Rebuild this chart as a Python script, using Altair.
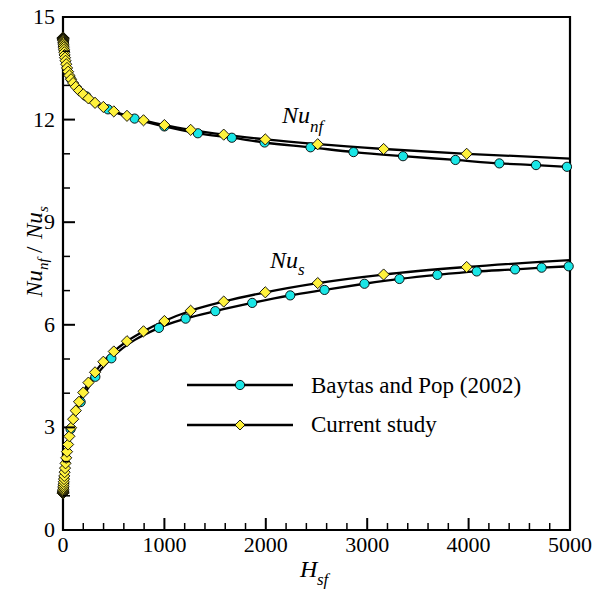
import altair as alt
import pandas as pd

# ---------------- data ----------------
# Current study (diamonds)
cur_H = [0.1, 0.126, 0.158, 0.2, 0.251, 0.316, 0.398, 0.501, 0.631, 0.794,
         1, 1.26, 1.58, 2, 2.51, 3.16, 3.98, 5.01, 6.31, 7.94,
         10, 12.6, 15.8, 20, 25.1, 31.6, 39.8, 50.1, 63.1, 79.4,
         100, 126, 158, 200, 251, 316, 398, 501, 631, 794,
         1000, 1259, 1585, 1995, 2512, 3162, 3981]
cur_nf = [14.40, 14.40, 14.39, 14.39, 14.39, 14.38, 14.38, 14.38, 14.37, 14.37,
          14.36, 14.35, 14.34, 14.32, 14.30, 14.27, 14.24, 14.20, 14.15, 14.10,
          14.04, 13.97, 13.89, 13.81, 13.72, 13.62, 13.51, 13.40, 13.29, 13.18,
          13.07, 12.96, 12.85, 12.74, 12.62, 12.49, 12.37, 12.24, 12.11, 11.98,
          11.84, 11.70, 11.56, 11.42, 11.28, 11.14, 11.00]
cur_s = [1.07, 1.07, 1.07, 1.08, 1.08, 1.08, 1.08, 1.09, 1.09, 1.09,
         1.10, 1.11, 1.12, 1.14, 1.16, 1.19, 1.23, 1.28, 1.34, 1.41,
         1.49, 1.58, 1.69, 1.81, 1.95, 2.11, 2.29, 2.50, 2.74, 2.99,
         3.24, 3.49, 3.75, 4.02, 4.31, 4.61, 4.92, 5.22, 5.52, 5.81,
         6.11, 6.41, 6.68, 6.95, 7.22, 7.47, 7.69]
cur_end_H = 5000
cur_end_nf = 10.86
cur_end_s = 7.89

# Baytas and Pop (2002) (circles)
bay_nf_H = [1, 10, 75, 230, 444, 706, 1000, 1330, 1665, 1988, 2441, 2865,
            3353, 3870, 4303, 4665, 4970]
bay_nf = [14.36, 14.04, 13.20, 12.68, 12.30, 12.03, 11.80, 11.60, 11.47, 11.33,
          11.19, 11.05, 10.93, 10.82, 10.72, 10.67, 10.62]
bay_s_H = [1, 10, 75, 174, 319, 477, 946, 1209, 1502, 1866, 2241, 2579,
           2973, 3318, 3692, 4080, 4458, 4720, 4987]
bay_s = [1.10, 1.49, 2.95, 3.74, 4.48, 5.02, 5.91, 6.18, 6.40, 6.64, 6.86, 7.02,
         7.20, 7.34, 7.46, 7.56, 7.62, 7.67, 7.71]

x_major = [0, 1000, 2000, 3000, 4000, 5000]
x_minor = [200, 400, 600, 800, 1200, 1400, 1600, 1800, 2200, 2400, 2600, 2800,
           3200, 3400, 3600, 3800, 4200, 4400, 4600, 4800]
x_tick_labels = ["0", "1000", "2000", "3000", "4000", "5000"]
y_major = [0, 3, 6, 9, 12, 15]
y_minor = [1, 2, 4, 5, 7, 8, 10, 11, 13, 14]
y_tick_labels = ["0", "3", "6", "9", "12", "15"]
legend_labels = ["Baytas and Pop (2002)", "Current study"]

# ---------------- styling ----------------
W, H = 507, 513
FONT = "Liberation Serif"
CYAN = "#1AE6E6"
YELLOW = "#FFF23C"

xs = alt.Scale(domain=[0, 5000], nice=False, zero=False)
ys = alt.Scale(domain=[0, 15], nice=False, zero=False)

X = alt.X("H:Q", scale=xs, axis=None)
Y = alt.Y("Nu:Q", scale=ys, axis=None)

n = len(cur_H)
cur_line_df = pd.DataFrame({
    "H": cur_H + [cur_end_H] + cur_H + [cur_end_H],
    "Nu": cur_nf + [cur_end_nf] + cur_s + [cur_end_s],
    "curve": ["nf"] * (n + 1) + ["s"] * (n + 1),
})
cur_pts_df = pd.DataFrame({
    "H": cur_H + cur_H,
    "Nu": cur_nf + cur_s,
    "curve": ["nf"] * n + ["s"] * n,
})
bay_df = pd.DataFrame({
    "H": bay_nf_H + bay_s_H,
    "Nu": bay_nf + bay_s,
    "curve": ["nf"] * len(bay_nf_H) + ["s"] * len(bay_s_H),
})

bay_line = alt.Chart(bay_df).mark_line(color="black", strokeWidth=2.3, interpolate="monotone").encode(
    x=X, y=Y, detail="curve:N", order="H:Q")
cur_line = alt.Chart(cur_line_df).mark_line(color="black", strokeWidth=2.3, interpolate="monotone").encode(
    x=X, y=Y, detail="curve:N", order="H:Q")
bay_pts = alt.Chart(bay_df).mark_point(shape="circle", filled=True, fill=CYAN, stroke="black",
                                       strokeWidth=0.9, size=85, opacity=1).encode(x=X, y=Y)
cur_pts = alt.Chart(cur_pts_df).mark_point(shape="diamond", filled=True, fill=YELLOW, stroke="black",
                                           strokeWidth=0.9, size=125, opacity=1).encode(x=X, y=Y)

# inward ticks
def xticks(vals, length, width):
    return alt.Chart(pd.DataFrame({"H": vals})).mark_rule(color="black", strokeWidth=width).encode(
        x=X, y=alt.value(H), y2=alt.value(H - length))

def yticks(vals, length, width):
    return alt.Chart(pd.DataFrame({"Nu": vals})).mark_rule(color="black", strokeWidth=width).encode(
        y=Y, x=alt.value(0), x2=alt.value(length))

ticks = [xticks(x_major, 12, 2), xticks(x_minor, 7, 1.5), yticks(y_major, 12, 2), yticks(y_minor, 7, 1.5)]

# tick labels as text marks
xlab = alt.Chart(pd.DataFrame({"H": x_major, "t": x_tick_labels})).mark_text(
    font=FONT, fontSize=22, align="center", baseline="top", color="black").encode(
    x=X, y=alt.value(H + 5), text="t:N")
ylab = alt.Chart(pd.DataFrame({"Nu": y_major, "t": y_tick_labels})).mark_text(
    font=FONT, fontSize=22, align="right", baseline="middle", color="black").encode(
    y=Y, x=alt.value(-8), text="t:N")

def label(txt, x, y, size, italic=True, angle=0):
    return alt.Chart(pd.DataFrame({"t": [txt]})).mark_text(
        font=FONT, fontSize=size, fontStyle="italic" if italic else "normal",
        align="left", baseline="alphabetic", angle=angle, color="black").encode(
        x=alt.value(x), y=alt.value(y), text="t:N")

texts = [
    # curve annotations
    label("Nu", 219, 106, 24), label("nf", 247, 115, 17),
    label("Nu", 207, 251, 24), label("s", 235, 258, 17),
    # x title
    label("H", 237, 560, 24), label("sf", 254, 568, 17),
    # y title (rotated)
    label("Nu", -21, 280, 23, angle=270), label("nf", -15, 253, 15, angle=270),
    label("/", -21, 236, 23, italic=False, angle=270),
    label("Nu", -21, 222, 23, angle=270), label("s", -15, 195, 15, angle=270),
    # legend texts
    label(legend_labels[0], 248, 376, 23, italic=False),
    label(legend_labels[1], 248, 415, 23, italic=False),
]

def legend_entry(lbl, y, shape, fill, size):
    d = pd.DataFrame({"t": [lbl]})
    rule = alt.Chart(d).mark_rule(color="black", strokeWidth=2.3).encode(
        x=alt.value(124), x2=alt.value(230), y=alt.value(y))
    pt = alt.Chart(d).mark_point(shape=shape, filled=True, fill=fill, stroke="black",
                                 strokeWidth=0.9, size=size, opacity=1).encode(
        x=alt.value(177), y=alt.value(y))
    return [rule, pt]

legend = legend_entry(legend_labels[0], 368, "circle", CYAN, 85) + \
    legend_entry(legend_labels[1], 408, "diamond", YELLOW, 100)

chart = alt.layer(bay_line, cur_line, bay_pts, cur_pts, *ticks, xlab, ylab, *texts, *legend).properties(
    width=W, height=H, autosize="none",
    padding={"left": 63, "top": 17, "right": 25, "bottom": 59},
    background="white",
).configure(font=FONT
).configure_view(stroke="black", strokeWidth=2.2
).configure_text(font=FONT)

chart.save("out.html", embed_options={"renderer": "svg", "actions": False})
